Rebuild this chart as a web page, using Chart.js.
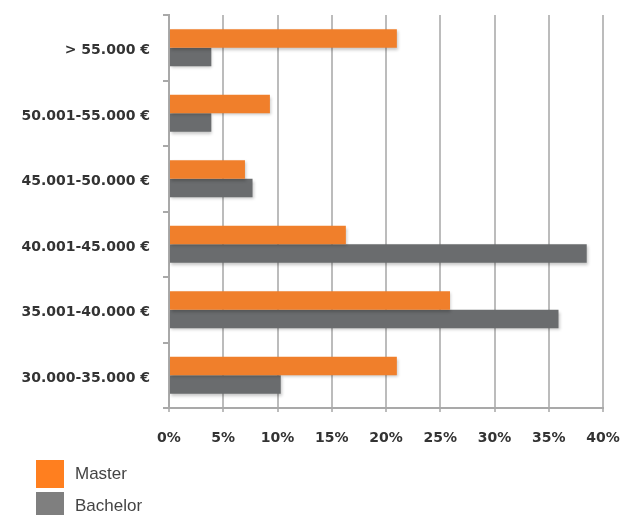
<!DOCTYPE html>
<html>
<head>
<meta charset="utf-8">
<script src="https://cdn.jsdelivr.net/npm/chart.js@4/dist/chart.umd.min.js"></script>
<style>
  html, body { margin: 0; padding: 0; background: #fff; }
  #wrap { position: relative; width: 620px; height: 515px; overflow: hidden; }
  #legend { position: absolute; left: 36px; top: 458px; font-family: "Liberation Sans", Arial, sans-serif; font-size: 17px; color: #444; }
  .item { display: flex; align-items: center; height: 32px; }
  .box { width: 28px; height: 28px; margin-right: 11px; }
</style>
</head>
<body>
<div id="wrap">
  <canvas id="salaryChart" width="620" height="515"></canvas>
  <div id="legend"></div>
</div>
<script>
const categories = ["> 55.000 €", "50.001-55.000 €", "45.001-50.000 €", "40.001-45.000 €", "35.001-40.000 €", "30.000-35.000 €"];
const master = [21, 9.3, 7, 16.3, 25.9, 21];
const bachelor = [3.9, 3.9, 7.7, 38.5, 35.9, 10.3];
const xTicks = [0, 5, 10, 15, 20, 25, 30, 35, 40];

const colors = { master: "#f07f2b", bachelor: "#6a6c6e" };
const legendColors = { master: "#ff7f1f", bachelor: "#7f7f7f" };

// soft drop shadow under the bars
const barShadow = {
  id: "barShadow",
  beforeDatasetsDraw(chart) {
    const ctx = chart.ctx;
    ctx.save();
    ctx.shadowColor = "rgba(0,0,0,0.22)";
    ctx.shadowBlur = 3;
    ctx.shadowOffsetX = 1;
    ctx.shadowOffsetY = 2;
  },
  afterDatasetsDraw(chart) {
    chart.ctx.restore();
  }
};

const labelFont = { family: "'DejaVu Sans', sans-serif", size: 14, weight: "bold" };

new Chart(document.getElementById("salaryChart"), {
  type: "bar",
  data: {
    labels: categories,
    datasets: [
      { label: "Master", data: master, backgroundColor: colors.master },
      { label: "Bachelor", data: bachelor, backgroundColor: colors.bachelor }
    ]
  },
  options: {
    indexAxis: "y",
    responsive: false,
    animation: false,
    categoryPercentage: 0.565,
    barPercentage: 1,
    layout: { padding: { top: 15, right: 17, bottom: 67, left: 0 } },
    plugins: { legend: { display: false }, tooltip: { enabled: false } },
    scales: {
      x: {
        min: 0,
        max: 40,
        afterBuildTicks: scale => { scale.ticks = xTicks.map(v => ({ value: v })); },
        afterFit: scale => {
          scale.height = 40;
          scale.paddingLeft = 0;
          scale.paddingRight = 0;
        },
        grid: { color: "#bcbcbc", lineWidth: 2, tickLength: 4 },
        border: { color: "#a9a9a9", width: 2 },
        ticks: {
          padding: 18,
          color: "#333",
          font: labelFont,
          maxRotation: 0,
          callback: v => v + "%"
        }
      },
      y: {
        afterFit: scale => {
          scale.width = 169;
          scale.paddingTop = 0;
          scale.paddingBottom = 0;
        },
        grid: { drawOnChartArea: false, color: "#a9a9a9", lineWidth: 2, tickLength: 6 },
        border: { color: "#a9a9a9", width: 2 },
        ticks: { padding: 13, labelOffset: 3, color: "#333", font: labelFont }
      }
    }
  },
  plugins: [barShadow]
});

const legend = document.getElementById("legend");
[["Master", legendColors.master], ["Bachelor", legendColors.bachelor]].forEach(([name, c]) => {
  const row = document.createElement("div");
  row.className = "item";
  row.innerHTML = `<span class="box" style="background:${c}"></span><span>${name}</span>`;
  legend.appendChild(row);
});
</script>
</body>
</html>
